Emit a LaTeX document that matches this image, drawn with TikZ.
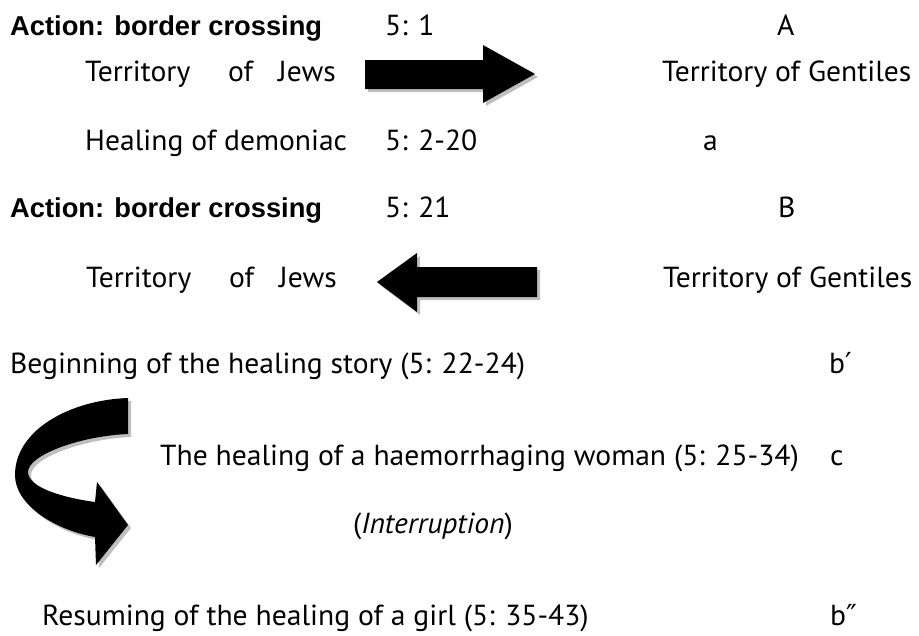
\documentclass[tikz,border=0pt]{standalone}
\usepackage{fontspec}
\setmainfont{PT Sans}[FakeStretch=1.02]
\newfontfamily\arialfam{Liberation Sans}
\newfontfamily\primefont{DejaVu Sans}
\begin{document}
\begin{tikzpicture}[x=1pt,y=-1pt]
\tikzset{
 txt/.style={anchor=base west,inner sep=0pt,font=\fontsize{29}{33}\selectfont},
 hdr/.style={anchor=base west,inner sep=0pt,font=\arialfam\bfseries\fontsize{27.3}{32}\selectfont},
 blk/.style={fill=black,draw=none},
 shd/.style={fill=gray!50,draw=none},
}
\def\pathR{(365,60) -- (483,60) -- (483,45) -- (535,74) -- (483,103) -- (483,89) -- (365,89) -- cycle}
\def\pathL{(537,267) -- (417,267) -- (417,253) -- (377,282) -- (417,312) -- (417,297) -- (537,297) -- cycle}
\def\pathC{(128,398) .. controls (70,400) and (15,430) .. (15,475) .. controls (15,505) and (55,530) .. (95,537) -- (96,565) -- (128,525) -- (97,482) -- (95,502) .. controls (65,498) and (28,488) .. (28,472) .. controls (28,455) and (80,436) .. (128,434) -- cycle}
\def\jews{\makebox[143pt][l]{Territory}\makebox[50pt][l]{of}Jews}
\useasboundingbox (0,0) rectangle (919,635);
% arrows
\begin{scope}[shift={(3,3)}]
\fill[shd] \pathR; \fill[shd] \pathL; \fill[shd] \pathC;
\end{scope}
\fill[blk] \pathR; \fill[blk] \pathL; \fill[blk] \pathC;
% texts
\node[hdr] (act1) at (10,35) {Action: border crossing};
\node[txt] (v1) at (385,35) {5: 1};
\node[txt] (A) at (777,35) {A};
\node[txt] (tj1) at (85,81) {\jews};
\node[txt] (tg1) at (662,81) {Territory of Gentiles};
\node[txt] (heal) at (85,150) {Healing of demoniac};
\node[txt] (v2) at (385,150) {5: 2-20};
\node[txt] (a) at (703,150) {a};
\node[hdr] (act2) at (10,217) {Action: border crossing};
\node[txt] (v3) at (385,217) {5: 21};
\node[txt] (B) at (778,217) {B};
\node[txt] (tj2) at (86,287) {\jews};
\node[txt] (tg2) at (663,287) {Territory of Gentiles};
\node[txt] (beg) at (10,373) {Beginning of the healing story (5: 22-24)};
\node[txt] (bp) at (829,373) {b{\primefont ′}};
\node[txt] (hw) at (160,465) {The healing of a haemorrhaging woman (5: 25-34)};
\node[txt] (c) at (830,465) {c};
\node[txt,anchor=base east] (intr) at (513,533) {(\textit{Interruption})};
\node[txt] (res) at (42,625) {Resuming of the healing of a girl (5: 35-43)};
\node[txt] (bpp) at (830,625) {b{\primefont ″}};
\end{tikzpicture}
\end{document}
